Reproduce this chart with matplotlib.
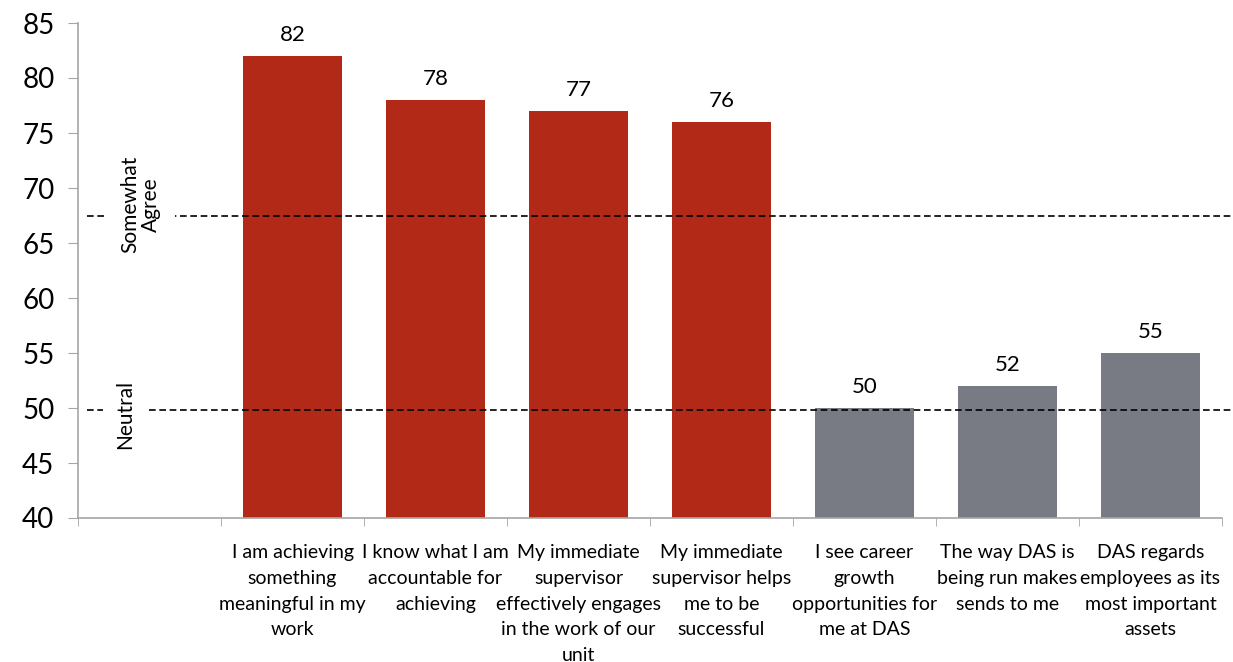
import matplotlib
matplotlib.use("Agg")
import matplotlib.pyplot as plt
import matplotlib.transforms as mtransforms

categories = [
    "",
    "I am achieving\nsomething\nmeaningful in my\nwork",
    "I know what I am\naccountable for\nachieving",
    "My immediate\nsupervisor\neffectively engages\nin the work of our\nunit",
    "My immediate\nsupervisor helps\nme to be\nsuccessful",
    "I see career\ngrowth\nopportunities for\nme at DAS",
    "The way DAS is\nbeing run makes\nsends to me",
    "DAS regards\nemployees as its\nmost important\nassets",
]
values = [None, 82, 78, 77, 76, 50, 52, 55]
groups = [None, "pos", "pos", "pos", "pos", "neg", "neg", "neg"]
ref_lines = {"Somewhat\nAgree": 67.5, "Neutral": 49.8}
yticks = [40, 45, 50, 55, 60, 65, 70, 75, 80, 85]

RED = "#B22A17"
GRAY = "#787B84"
AXC = "#A6A6A6"

plt.rcParams['font.family'] = ['Lato', 'DejaVu Sans']

fig = plt.figure(figsize=(12.33, 6.62), dpi=100)
ax = fig.add_axes([78/1233, (662-518)/662, (1222-78)/1233, (518-23)/662])

for i, (v, g) in enumerate(zip(values, groups)):
    if v is None:
        continue
    ax.bar(i, v - 40, bottom=40, width=0.69, color=RED if g == "pos" else GRAY, zorder=2)
    ax.text(i, v + 1.0, f"{v}", ha="center", va="bottom", fontsize=16, color="black")

ax.set_xlim(-0.5, len(categories) - 0.5)
ax.set_ylim(40, 85)
ax.set_yticks(yticks)
ax.set_yticklabels([str(t) for t in yticks], fontsize=20)

ax.set_xticks(range(len(categories)))
ax.set_xticklabels(categories, fontsize=14, linespacing=1.62, va="top")
ax.set_xticks([i - 0.5 for i in range(len(categories) + 1)], minor=True)
ax.tick_params(axis="x", which="major", length=0, pad=19)
ax.tick_params(axis="x", which="minor", length=6, color=AXC, direction="out")
ax.tick_params(axis="y", length=7, color=AXC, direction="out", pad=10)

for s in ["top", "right"]:
    ax.spines[s].set_visible(False)
for s in ["left", "bottom"]:
    ax.spines[s].set_color(AXC)
    ax.spines[s].set_linewidth(1.2)

trans = mtransforms.blended_transform_factory(ax.transAxes, ax.transData)
for label, y in ref_lines.items():
    ax.plot([0.008, 1.01], [y, y], transform=trans, color="black", lw=1.2,
            dashes=(4, 2.2), clip_on=False, zorder=3)

ax.text(-0.063, 68.5, "Somewhat\nAgree", rotation=90, ha="center", va="center",
        fontsize=15, linespacing=1.05, zorder=4,
        bbox=dict(boxstyle="square,pad=0.7", facecolor="white", edgecolor="none"))
ax.text(-0.17, 49.4, "Neutral", rotation=90, ha="center", va="center",
        fontsize=15, zorder=4,
        bbox=dict(boxstyle="square,pad=0.6", facecolor="white", edgecolor="none"))

fig.savefig("out.png", dpi=100)
